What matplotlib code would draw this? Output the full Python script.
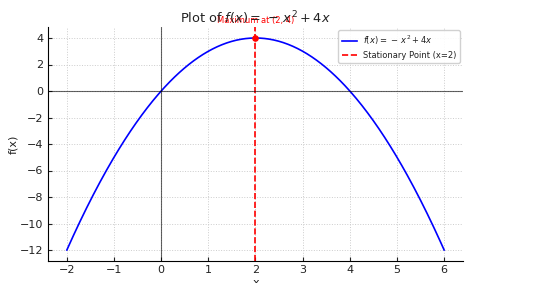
import numpy as np
import matplotlib
matplotlib.use("Agg")
import matplotlib.pyplot as plt

# Data: f(x) = a*x^2 + b*x + c over the plotted range
coef_a, coef_b, coef_c = -1, 4, 0
x_start, x_end = -2, 6
stationary_x = 2
stationary_y = 4
title_text = r"Plot of $f(x) = \,-\, x^2 + 4x$"
curve_label = r"$f(x) = \,-\, x^2 + 4x$"
vline_label = "Stationary Point (x=2)"
annot_text = "Maximum at (2, 4)"
yticks = [4, 2, 0, -2, -4, -6, -8, -10, -12]

x = np.linspace(x_start, x_end, 400)
y = coef_a * x**2 + coef_b * x + coef_c

plt.rcParams["text.color"] = "#222222"
plt.rcParams["axes.labelcolor"] = "#222222"
plt.rcParams["xtick.color"] = "#222222"
plt.rcParams["ytick.color"] = "#222222"

fig = plt.figure(figsize=(5.35, 2.83), dpi=100)
ax = fig.add_axes([48/535, 1-260.6/283, (463-48)/535, (260.6-27.4)/283])

ax.plot(x, y, color="blue", lw=1.2, label=curve_label)
ax.axvline(stationary_x, color="red", ls="--", lw=1.2, label=vline_label)
ax.scatter([stationary_x], [stationary_y], color="red", s=14, zorder=5)
ax.text(stationary_x, stationary_y + 0.95, annot_text, color="red", ha="center", va="bottom", fontsize=6)
ax.axhline(0, color="black", lw=0.8, alpha=0.6)
ax.axvline(0, color="black", lw=0.8, alpha=0.6)

ax.set_title(title_text, fontsize=9.3, pad=3)
ax.set_xlabel("x", fontsize=8, labelpad=2)
ax.set_ylabel("f(x)", fontsize=8, labelpad=1)
ax.tick_params(direction="in", labelsize=8, length=3)
ax.grid(True, ls=":", color="#cccccc", lw=0.7)
ax.spines["top"].set_visible(False)
ax.spines["right"].set_visible(False)
ax.set_yticks(yticks)
ax.legend(loc="upper right", fontsize=6, handlelength=1.8, labelspacing=0.45,
          framealpha=0.9, borderaxespad=0.35)

fig.savefig("out.png", dpi=100)
